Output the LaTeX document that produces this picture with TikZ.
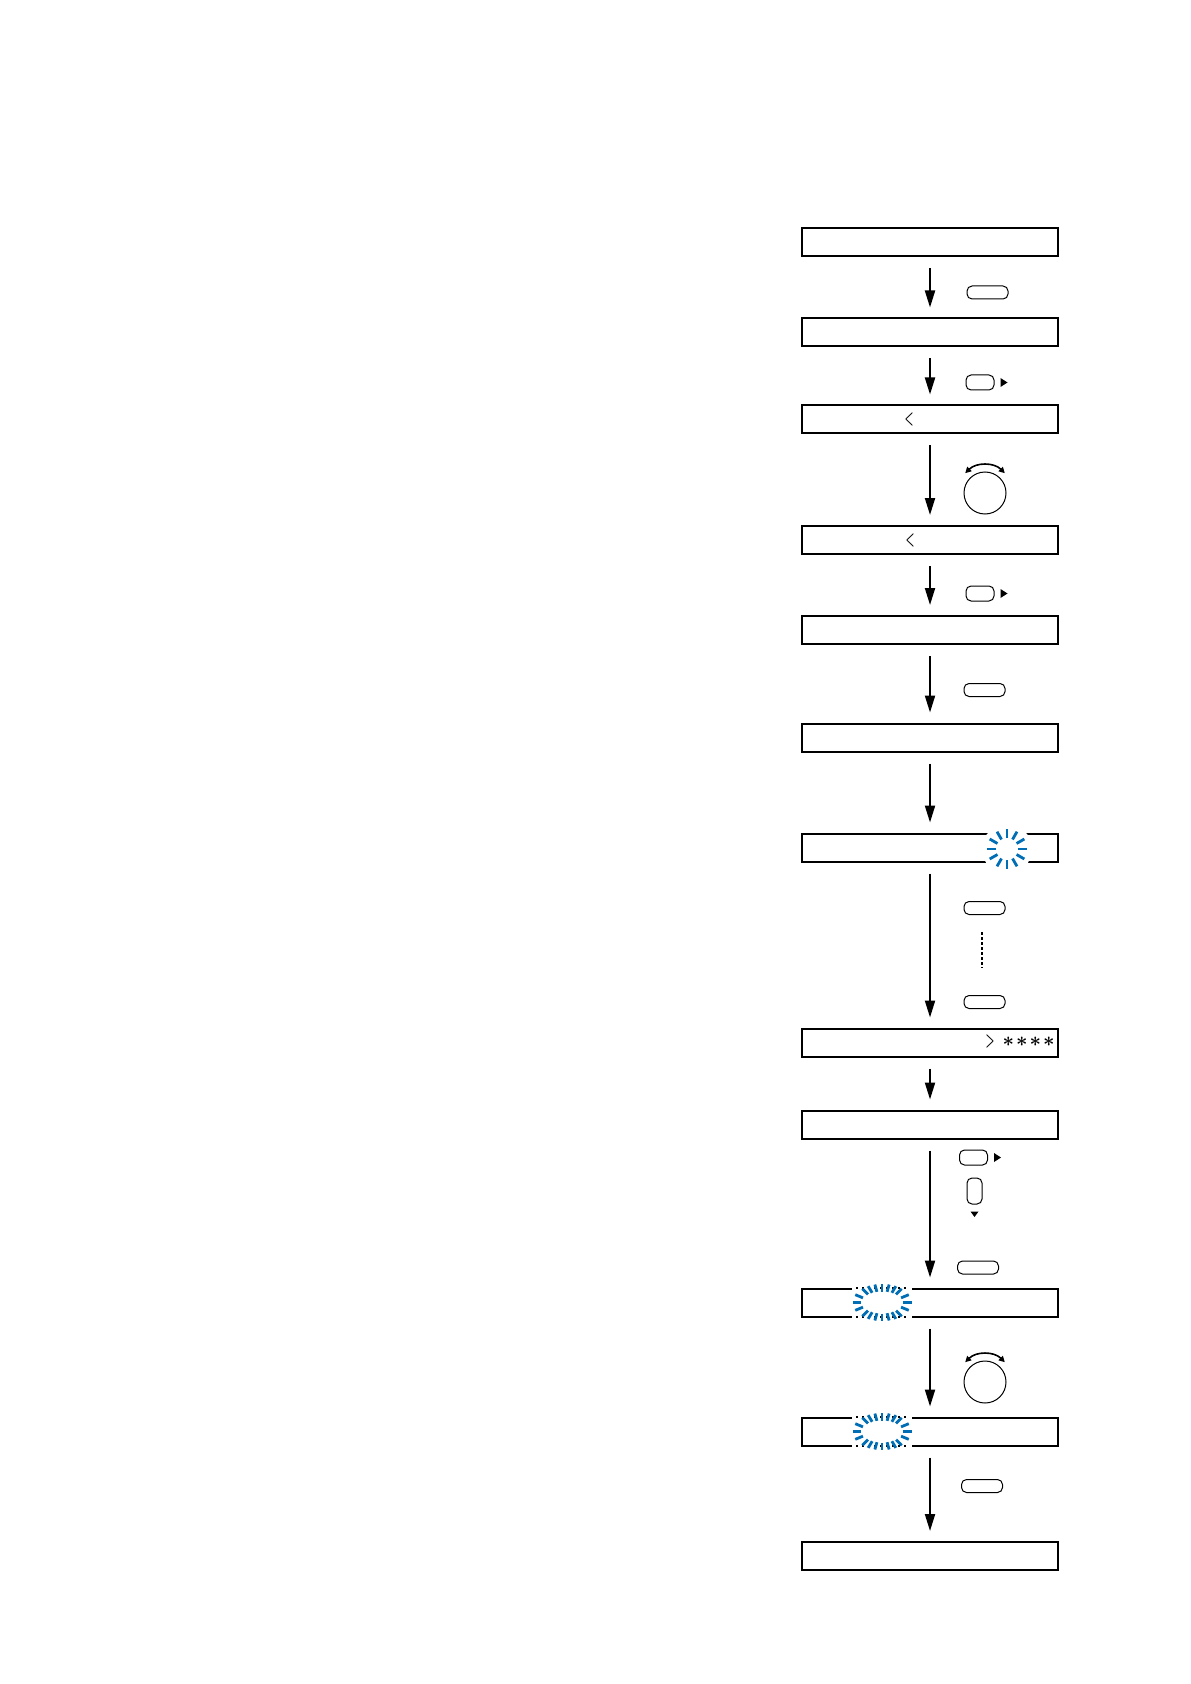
\documentclass[tikz,border=0pt]{standalone}
\usepackage{tikz}
\usetikzlibrary{arrows.meta, positioning, shapes.geometric, calc}
\definecolor{blink}{RGB}{0,110,180}
\tikzstyle{display}   = [draw, line width=1pt, minimum width=128pt, minimum height=14pt, inner sep=0pt]
\tikzstyle{arrow}     = [line width=1pt, -{Triangle[length=8.5pt,width=5pt]}, shorten <=5.5pt, shorten >=5pt]
\tikzstyle{key}       = [draw, line width=0.5pt, rounded corners=2.5pt, minimum width=20.5pt, minimum height=6.5pt, inner sep=0pt]
\tikzstyle{smallkey}  = [key, minimum width=14pt, minimum height=7.5pt]
\tikzstyle{vkey}      = [key, minimum width=7.5pt, minimum height=13pt]
\tikzstyle{knob}      = [draw, circle, line width=0.5pt, minimum size=21pt, inner sep=0pt]
\tikzstyle{turnarc}   = [line width=0.8pt, {Triangle[length=3pt,width=3pt]}-{Triangle[length=3pt,width=3pt]}]
\tikzstyle{blinktick} = [blink, line width=1.4pt]
\tikzstyle{dotline}   = [line width=0.75pt, dash pattern=on 1.5pt off 1pt]
\newcommand{\narrow}[1]{\scalebox{0.5}[1]{\boldmath$#1$}}
\newcommand{\pwstar}{\mbox{\boldmath$\ast$}}
\begin{document}
\begin{tikzpicture}[x=0.5pt, y=-0.5pt]
\useasboundingbox (0,0) rectangle (1190,1684);

% displeje
\node[display] (s1)  at (930,242)    {};
\node[display] (s2)  at (930,332.5)  {};
\node[display] (s3)  at (930,419.5)  {};
\node[display] (s4)  at (930,540)    {};
\node[display] (s5)  at (930,630)    {};
\node[display] (s6)  at (930,737.5)  {};
\node[display] (s7)  at (930,847.5)  {};
\node[display] (s8)  at (930,1042.5) {};
\node[display] (s9)  at (930,1124.5) {};
\node[display] (s10) at (930,1302.5) {};
\node[display] (s11) at (930,1431.5) {};
\node[display] (s12) at (930,1556)   {};

% texty na displejich
\node[inner sep=0pt] (lt3) at (909,419.5) {\narrow{<}};
\node[inner sep=0pt] (lt4) at (910,540)   {\narrow{<}};
\node[inner sep=0pt] (gt8) at (990,1041.5) {\narrow{>}};
\node[inner sep=0pt] (pw)  at (1028.5,1041.5) {\pwstar\hspace{1pt}\pwstar\hspace{1pt}\pwstar\hspace{1pt}\pwstar};

% šipky mezi kroky
\draw[arrow] (s1) -- (s2);
\draw[arrow] (s2) -- (s3);
\draw[arrow] (s3) -- (s4);
\draw[arrow] (s4) -- (s5);
\draw[arrow] (s5) -- (s6);
\draw[arrow] (s6) -- (s7);
\draw[arrow] (s7) -- (s8);
\draw[arrow] (s8) -- (s9);
\draw[arrow] (s9) -- (s10);
\draw[arrow] (s10) -- (s11);
\draw[arrow] (s11) -- (s12);

% tlačítka
\node[key] (k1) at (987.5,292.5) {};
\node[smallkey] (k2) at (980,382.5) {};
\fill ([xshift=3pt]k2.east) ++(0,2.25pt) -- ++(3.5pt,-2.25pt) -- ++(-3.5pt,-2.25pt) -- cycle;
\node[smallkey] (k4) at (980,593.5) {};
\fill ([xshift=3pt]k4.east) ++(0,2.25pt) -- ++(3.5pt,-2.25pt) -- ++(-3.5pt,-2.25pt) -- cycle;
\node[key] (k5) at (984.5,690) {};
\node[key] (k7a) at (984.5,908) {};
\node[key] (k7b) at (984.5,1002) {};
\draw[dotline] ([xshift=-1.25pt,yshift=-8.5pt]k7a.south) -- ([xshift=-1.25pt,yshift=13.5pt]k7b.north);
\node[smallkey] (k9a) at (973.5,1157.5) {};
\fill ([xshift=3pt]k9a.east) ++(0,2.25pt) -- ++(3.5pt,-2.25pt) -- ++(-3.5pt,-2.25pt) -- cycle;
\node[vkey] (k9b) at (974.5,1191) {};
\fill ([yshift=-3.5pt]k9b.south) ++(-2pt,0) -- ++(4pt,0) -- ++(-2pt,-2.75pt) -- cycle;
\node[key] (k9c) at (978,1267.5) {};
\node[key] (k11) at (982,1486) {};

% otočné kolečko
\node[knob] (kn3) at (985,493) {};
\draw[turnarc] ([shift={(45:14pt)}]kn3.center) arc[start angle=45, end angle=135, radius=14pt];
\node[knob] (kn10) at (985,1382) {};
\draw[turnarc] ([shift={(45:14pt)}]kn10.center) arc[start angle=45, end angle=135, radius=14pt];

% blikání
\coordinate (fl7) at (1007,849);
\fill[white] (fl7) circle[radius=12.5pt];
\foreach \a in {0,30,...,330}
  \draw[blinktick] ([shift={(\a:5.5pt)}]fl7) -- ([shift={(\a:10pt)}]fl7);

\coordinate (fl10) at (882,1302.5);
\coordinate (fl11) at (882,1431.5);
\foreach \f in {fl10,fl11} {
  \fill[white] ([shift={(-15pt,-10pt)}]\f) rectangle ([shift={(15pt,10pt)}]\f);
  \draw[dotted, line width=1pt] ([shift={(-13pt,7.25pt)}]\f) -- ([shift={(13pt,7.25pt)}]\f);
  \draw[dotted, line width=1pt] ([shift={(-13pt,-7.25pt)}]\f) -- ([shift={(13pt,-7.25pt)}]\f);
  \foreach \a in {0,25,48,62,76,90,104,118,132,155,180,205,228,242,256,270,284,298,312,335}
    \draw[blinktick] ([shift={(\a:10.5pt and 5.5pt)}]\f) -- ([shift={(\a:14.75pt and 9.25pt)}]\f);
}

\end{tikzpicture}
\end{document}
